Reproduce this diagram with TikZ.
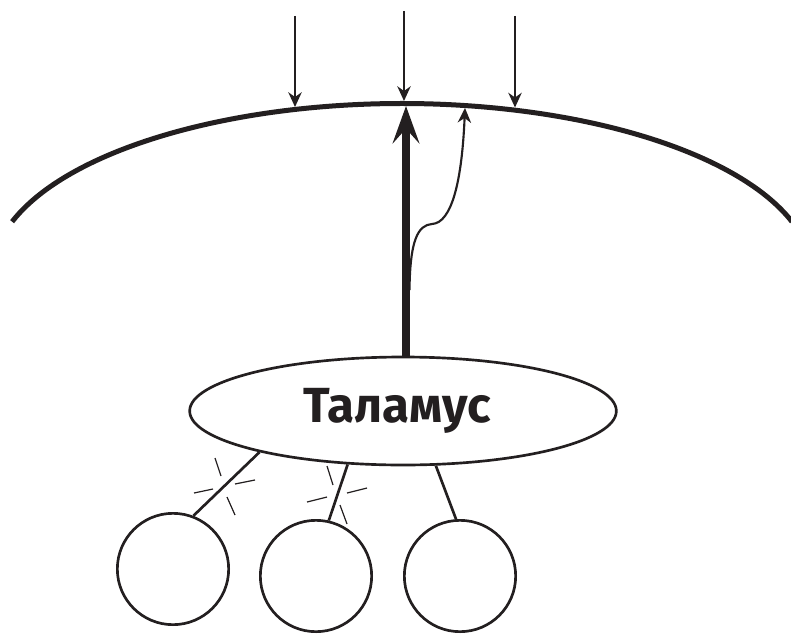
\documentclass[tikz,border=0pt]{standalone}
\usepackage{fontspec}
\newfontfamily\labelfont{Fira Sans}
\usetikzlibrary{arrows.meta,shapes.geometric}
\definecolor{ink}{HTML}{231F20}
\begin{document}
\begin{tikzpicture}[x=0.75pt,y=-0.75pt,
  thinarrow/.style={line width=1.6pt, draw=ink, -{Stealth[length=11pt,width=10pt,inset=3.5pt]}},
  thickarrow/.style={line width=6pt, draw=ink, -{Stealth[length=28pt,width=20pt,inset=11pt]}},
  cortex/.style={line width=3.75pt, draw=ink},
  thal/.style={ellipse, draw=ink, line width=2pt, fill=white, minimum width=320pt, minimum height=81pt, inner sep=0pt, font=\labelfont\bfseries\fontsize{37}{42}\selectfont, text=ink},
  nucleus/.style={circle, draw=ink, line width=2pt, minimum size=83.5pt, inner sep=0pt},
  link/.style={line width=2pt, draw=ink},
  tick/.style={line width=0.9pt, draw=ink}]
\useasboundingbox (0,0) rectangle (791,635);
% cortex surface
\draw[cortex] (12.1,221.7) arc[start angle=-162, end angle=-18, x radius=410, y radius=171];
% thalamus and nuclei
\node[thal] (e) at (403,411) {\hspace*{-9pt}Таламус};
\node[nucleus] (c1) at (173,569) {};
\node[nucleus] (c2) at (316,576) {};
\node[nucleus] (c3) at (460,576) {};
% incoming arrows from above
\coordinate (s1) at (295,16);  \coordinate (t1) at (295,107);
\coordinate (s2) at (404,11);  \coordinate (t2) at (404,101);
\coordinate (s3) at (515,16);  \coordinate (t3) at (515,107.5);
\draw[thinarrow] (s1) -- (t1);
\draw[thinarrow] (s2) -- (t2);
\draw[thinarrow] (s3) -- (t3);
% thick projection
\coordinate (t0) at (406,106);
\draw[thickarrow] (e.north -| t0) -- (t0);
% branching thin arrow
\coordinate (b0) at (409.5,290);
\coordinate (b1) at (432,224);
\coordinate (t4) at (465,108);
\draw[thinarrow] (b0) .. controls (410,240) and (418,225) .. (b1) .. controls (452,223) and (462,180) .. (t4);
% links to nuclei
\draw[link] (e.196) -- (c1.69);
\draw[link] (e.224) -- (c2.77);
\draw[link] (e.-59) -- (c3.94);
% cut marks
\draw[tick] (215,458) -- (221,476);
\draw[tick] (227,497) -- (235,515);
\draw[tick] (194,493) -- (213,489);
\draw[tick] (235,484) -- (255,480);
\draw[tick] (327,466) -- (333,485);
\draw[tick] (340,505) -- (347,524);
\draw[tick] (307,502) -- (327,497);
\draw[tick] (347,493) -- (367,488);
\end{tikzpicture}
\end{document}
